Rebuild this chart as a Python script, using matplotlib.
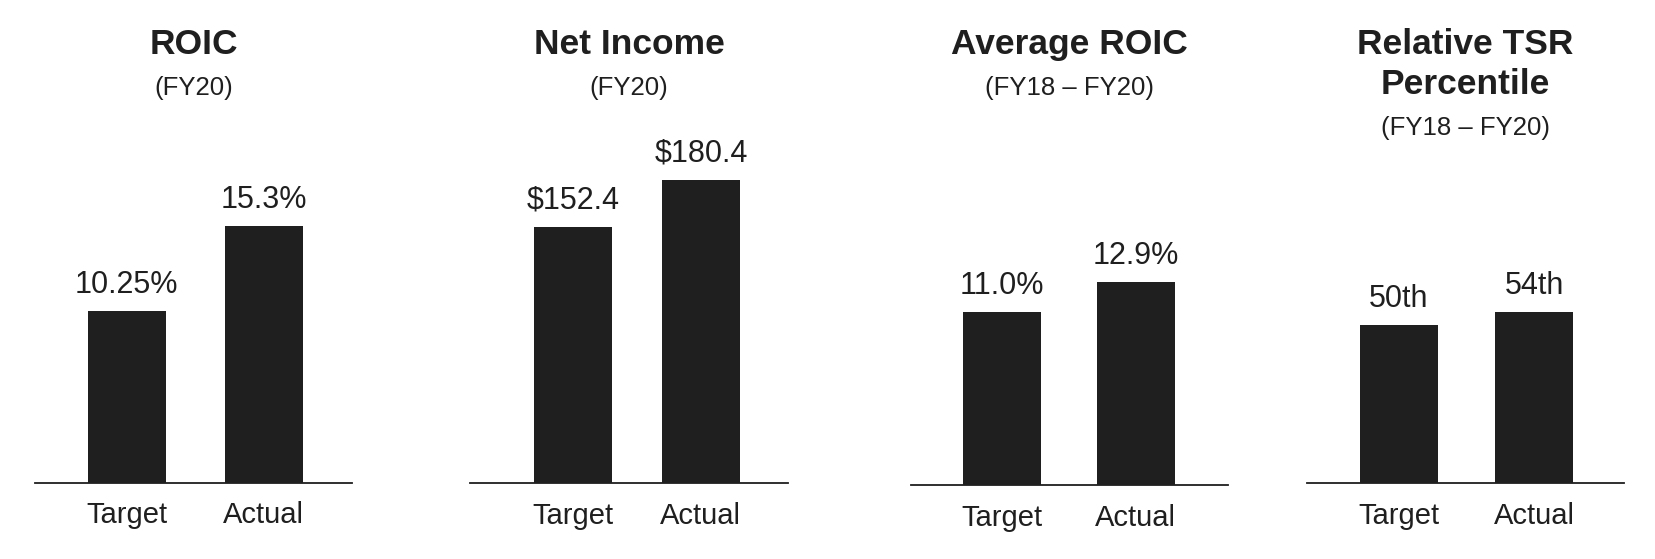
import matplotlib
matplotlib.use("Agg")
import matplotlib.pyplot as plt

plt.rcParams['font.family'] = ['Liberation Sans', 'DejaVu Sans']

# data
categories = ["Target", "Actual"]
titles = ["ROIC", "Net Income", "Average ROIC", "Relative TSR\nPercentile"]
subtitles = ["(FY20)", "(FY20)", "(FY18 \u2013 FY20)", "(FY18 \u2013 FY20)"]
roic = [10.25, 15.3]
net_income = [152.4, 180.4]
avg_roic = [11.0, 12.9]
tsr_pct = [50, 54]
roic_labels = ["10.25%", "15.3%"]
net_income_labels = ["$152.4", "$180.4"]
avg_roic_labels = ["11.0%", "12.9%"]
tsr_labels = ["50th", "54th"]

series = [roic, net_income, avg_roic, tsr_pct]
labels = [roic_labels, net_income_labels, avg_roic_labels, tsr_labels]

# layout (pixels in a 1655x559 figure)
W, H = 1655, 559
ax_left = [35, 470, 911, 1307]
ax_right = [352, 788, 1228, 1624]
baseline = [482.5, 483.3, 485.0, 483.3]
px_per_unit = [16.74, 1.680, 15.70, 3.168]
xlims = [(-0.669, 1.645), (-0.811, 1.683), (-0.675, 1.687), (-0.681, 1.666)]
bar_w = [0.569, 0.612, 0.581, 0.577]

dark = '#1f1f1f'
fig = plt.figure(figsize=(W / 100, H / 100), dpi=100)

for i in range(4):
    ax = fig.add_axes([ax_left[i] / W, 1 - baseline[i] / H,
                       (ax_right[i] - ax_left[i]) / W, baseline[i] / H])
    ax.bar(range(len(categories)), series[i], width=bar_w[i], color=dark)
    ax.set_xlim(*xlims[i])
    ax.set_ylim(0, baseline[i] / px_per_unit[i])
    for s in ['top', 'right', 'left']:
        ax.spines[s].set_visible(False)
    ax.spines['bottom'].set_linewidth(1.3)
    ax.spines['bottom'].set_color(dark)
    ax.set_yticks([])
    ax.set_xticks(range(len(categories)))
    ax.set_xticklabels(categories, fontsize=21, color=dark)
    ax.tick_params(axis='x', length=0, pad=13.5)
    for x, v, lab in zip(range(len(categories)), series[i], labels[i]):
        ax.annotate(lab, (x, v), xytext=(0, 13.2), textcoords='offset points',
                    ha='center', va='baseline', fontsize=22, color=dark)

    xc = (ax_left[i] + ax_right[i]) / 2 / W
    lines = titles[i].split("\n")
    for j, line in enumerate(lines):
        fig.text(xc, 1 - (54 + 40.5 * j) / H, line, ha='center', va='baseline',
                 fontsize=25.5, fontweight='bold', color=dark)
    fig.text(xc, 1 - (54.5 + 40.3 * len(lines)) / H, subtitles[i], ha='center',
             va='baseline', fontsize=18.5, color=dark)

fig.savefig("out.png", dpi=100)
